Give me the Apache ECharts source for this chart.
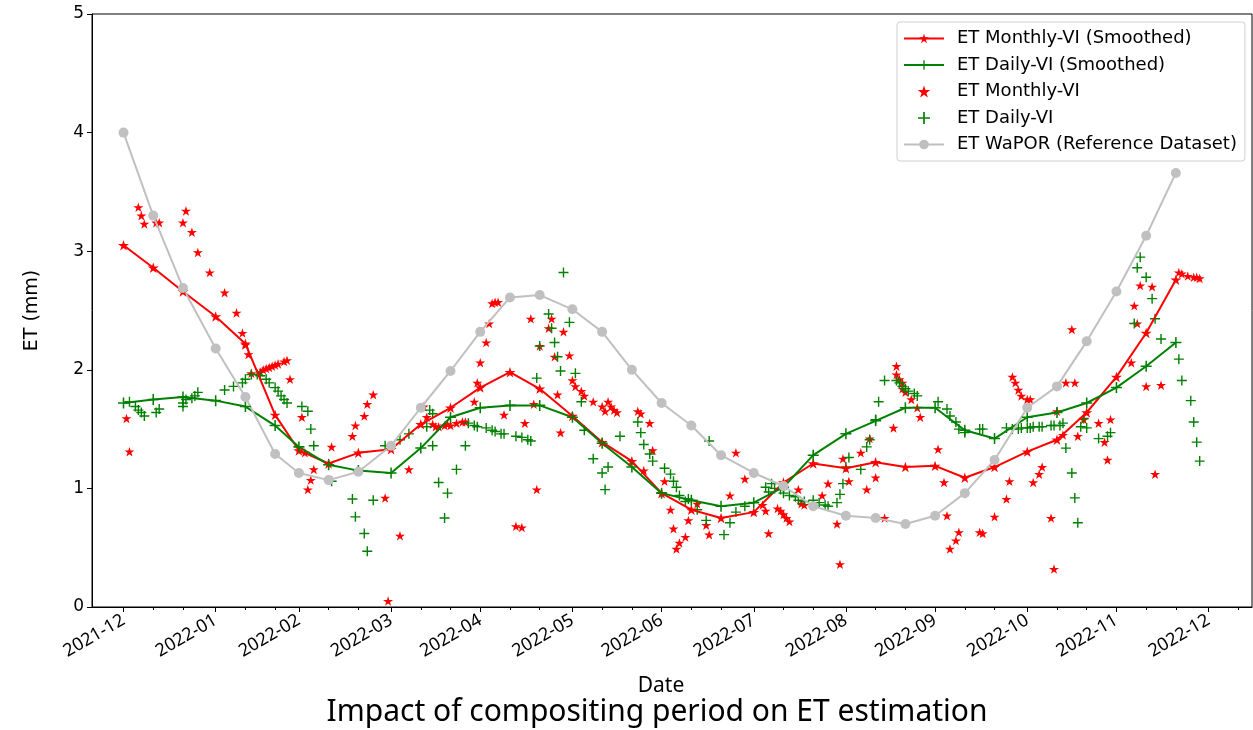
<!DOCTYPE html>
<html>
<head>
<meta charset="utf-8">
<title>Impact of compositing period on ET estimation</title>
<script src="https://cdn.jsdelivr.net/npm/echarts@6.0.0/dist/echarts.min.js"></script>
<style>
  html, body { margin: 0; padding: 0; background: #fff; }
  #etChart { width: 1253px; height: 730px; }
</style>
</head>
<body>
<div id="etChart"></div>
<script>
// dekad (10-day) dates used by the smoothed series and the WaPOR reference
var dekadDates = ['2021-12-31', '2022-01-10', '2022-01-20', '2022-01-31', '2022-02-10', '2022-02-20',
  '2022-02-28', '2022-03-10', '2022-03-20', '2022-03-31', '2022-04-10', '2022-04-20',
  '2022-04-30', '2022-05-10', '2022-05-20', '2022-05-31', '2022-06-10', '2022-06-20',
  '2022-06-30', '2022-07-10', '2022-07-20', '2022-07-31', '2022-08-10', '2022-08-20',
  '2022-08-31', '2022-09-10', '2022-09-20', '2022-09-30', '2022-10-10', '2022-10-20',
  '2022-10-31', '2022-11-10', '2022-11-20', '2022-11-30', '2022-12-10', '2022-12-20'];

var monthlySmoothed = [3.05, 2.86, 2.66, 2.45, 2.22, 1.62, 1.32, 1.21, 1.30, 1.33, 1.54, 1.68,
  1.85, 1.98, 1.84, 1.61, 1.39, 1.23, 0.96, 0.82, 0.75, 0.80, 1.05, 1.21,
  1.17, 1.22, 1.18, 1.19, 1.09, 1.18, 1.31, 1.41, 1.64, 1.94, 2.31, 2.76];

var dailySmoothed = [1.72, 1.75, 1.77, 1.74, 1.69, 1.53, 1.35, 1.20, 1.15, 1.13, 1.34, 1.60,
  1.68, 1.70, 1.70, 1.60, 1.38, 1.18, 0.96, 0.90, 0.85, 0.88, 1.01, 1.28,
  1.46, 1.57, 1.68, 1.68, 1.49, 1.42, 1.60, 1.64, 1.72, 1.85, 2.03, 2.23];

var wapor = [4.00, 3.30, 2.69, 2.18, 1.77, 1.29, 1.13, 1.07, 1.14, 1.36, 1.68, 1.99,
  2.32, 2.61, 2.63, 2.51, 2.32, 2.00, 1.72, 1.53, 1.28, 1.13, 1.02, 0.85,
  0.77, 0.75, 0.70, 0.77, 0.96, 1.24, 1.68, 1.86, 2.24, 2.66, 3.13, 3.66];

// raw estimates: day number counted from 2021-12-31, and ET (mm)
var monthlyViDay = [1, 2, 5, 6, 7, 11, 12, 20, 21, 23,
  25, 29, 34, 38, 40, 41, 42, 43, 46, 47,
  48, 49, 50, 51, 52, 54, 55, 56, 60, 61,
  62, 63, 64, 70, 77, 78, 81, 82, 84, 88,
  89, 93, 96, 101, 102, 104, 105, 106, 108, 109,
  110, 112, 114, 115, 118, 119, 120, 122, 123, 124,
  125, 126, 128, 132, 134, 135, 137, 138, 139, 140,
  143, 144, 145, 146, 147, 148, 150, 151, 152, 154,
  155, 158, 161, 162, 163, 164, 165, 166, 173, 174,
  175, 177, 178, 182, 184, 185, 186, 187, 189, 190,
  193, 196, 197, 204, 206, 209, 215, 216, 217, 220,
  221, 222, 223, 224, 227, 228, 229, 235, 237, 240,
  241, 242, 244, 248, 250, 251, 253, 256, 259, 260,
  260, 261, 262, 262, 263, 265, 267, 268, 274, 276,
  277, 278, 280, 281, 288, 289, 293, 297, 298, 299,
  300, 301, 302, 304, 305, 306, 308, 309, 312, 313,
  314, 316, 317, 319, 320, 321, 323, 328, 330, 331,
  332, 339, 340, 341, 342, 344, 346, 347, 349, 355,
  356, 358, 360, 361, 362];
var monthlyViEt = [1.59, 1.31, 3.37, 3.30, 3.23, 3.24, 3.24, 3.24, 3.34, 3.16,
  2.99, 2.82, 2.65, 2.48, 2.31, 2.21, 2.13, 1.97, 1.98, 2.00,
  2.01, 2.02, 2.03, 2.04, 2.05, 2.07, 2.08, 1.92, 1.60, 1.30,
  0.99, 1.07, 1.16, 1.35, 1.44, 1.53, 1.61, 1.71, 1.79, 0.92,
  0.05, 0.60, 1.16, 1.69, 1.60, 1.54, 1.52, 1.52, 1.53, 1.54,
  1.53, 1.55, 1.56, 1.56, 1.73, 1.89, 2.06, 2.23, 2.39, 2.56,
  2.57, 2.57, 1.62, 0.68, 0.67, 1.55, 2.43, 1.71, 0.99, 2.20,
  2.35, 2.43, 2.11, 1.79, 1.47, 2.32, 2.12, 1.91, 1.86, 1.82,
  1.78, 1.73, 1.69, 1.65, 1.73, 1.69, 1.66, 1.64, 1.65, 1.63,
  1.15, 1.55, 1.32, 1.06, 0.82, 0.66, 0.49, 0.54, 0.59, 0.73,
  0.87, 0.69, 0.61, 0.94, 1.30, 1.08, 0.86, 0.81, 0.62, 0.83,
  0.81, 0.78, 0.75, 0.72, 0.99, 0.87, 0.86, 0.94, 1.04, 0.70,
  0.36, 1.25, 1.06, 1.30, 0.99, 1.42, 1.09, 0.75, 1.51, 2.03,
  1.96, 1.92, 1.89, 1.84, 1.81, 1.75, 1.68, 1.60, 1.33, 1.05,
  0.77, 0.49, 0.56, 0.63, 0.63, 0.62, 0.76, 0.91, 1.06, 1.94,
  1.89, 1.83, 1.78, 1.75, 1.75, 1.05, 1.12, 1.18, 0.75, 0.32,
  1.65, 1.45, 1.89, 2.34, 1.89, 1.44, 1.58, 1.55, 1.39, 1.24,
  1.58, 2.06, 2.54, 2.39, 2.71, 1.86, 2.70, 1.12, 1.87, 2.82,
  2.81, 2.79, 2.78, 2.78, 2.77];

var dailyViDay = [2, 4, 5, 6, 7, 11, 12, 20, 20, 21,
  23, 24, 25, 34, 37, 40, 41, 43, 45, 46,
  48, 49, 51, 52, 53, 54, 55, 60, 62, 63,
  64, 70, 77, 78, 81, 82, 84, 88, 93, 96,
  102, 103, 104, 104, 106, 108, 109, 112, 115, 116,
  118, 119, 122, 124, 125, 127, 128, 132, 134, 136,
  137, 139, 140, 143, 144, 145, 146, 147, 148, 150,
  152, 154, 155, 158, 161, 162, 163, 167, 173, 174,
  175, 177, 178, 182, 184, 185, 186, 187, 189, 190,
  193, 196, 197, 202, 204, 206, 209, 216, 217, 218,
  219, 221, 222, 224, 226, 227, 229, 232, 234, 236,
  237, 240, 241, 242, 243, 244, 248, 250, 251, 253,
  254, 256, 260, 261, 262, 263, 264, 266, 267, 274,
  277, 278, 280, 281, 283, 288, 289, 297, 299, 301,
  302, 304, 305, 306, 308, 309, 312, 313, 315, 316,
  317, 319, 320, 321, 322, 323, 324, 328, 331, 332,
  340, 341, 342, 344, 346, 347, 349, 355, 356, 359,
  360, 361, 362];
var dailyViEt = [1.73, 1.69, 1.66, 1.64, 1.61, 1.64, 1.67, 1.72, 1.69, 1.75,
  1.76, 1.78, 1.81, 1.83, 1.86, 1.89, 1.92, 1.96, 1.96, 1.95,
  1.92, 1.89, 1.85, 1.82, 1.78, 1.75, 1.72, 1.69, 1.65, 1.50,
  1.36, 1.06, 0.91, 0.76, 0.62, 0.47, 0.90, 1.36, 1.41, 1.46,
  1.52, 1.66, 1.63, 1.36, 1.05, 0.75, 0.96, 1.16, 1.36, 1.55,
  1.53, 1.52, 1.51, 1.49, 1.48, 1.46, 1.46, 1.44, 1.43, 1.41,
  1.40, 1.93, 2.20, 2.47, 2.35, 2.23, 2.11, 1.99, 2.82, 2.40,
  1.97, 1.73, 1.49, 1.25, 1.13, 0.99, 1.18, 1.44, 1.56, 1.47,
  1.37, 1.29, 1.23, 1.17, 1.12, 1.06, 1.01, 0.94, 0.89, 0.91,
  0.82, 0.73, 1.40, 0.61, 0.71, 0.80, 0.85, 1.01, 0.97, 1.04,
  1.00, 0.99, 0.96, 0.94, 0.93, 0.90, 0.89, 0.90, 0.88, 0.86,
  0.85, 0.88, 0.95, 1.04, 1.18, 1.26, 1.16, 1.35, 1.41, 1.58,
  1.73, 1.91, 1.91, 1.89, 1.86, 1.84, 1.82, 1.80, 1.78, 1.73,
  1.67, 1.61, 1.56, 1.50, 1.47, 1.50, 1.50, 1.51, 1.50, 1.50,
  1.51, 1.51, 1.51, 1.52, 1.52, 1.52, 1.53, 1.53, 1.53, 1.55,
  1.34, 1.13, 0.92, 0.71, 1.52, 1.59, 1.51, 1.42, 1.44, 1.47,
  2.39, 2.86, 2.95, 2.78, 2.60, 2.43, 2.26, 2.09, 1.91, 1.74,
  1.56, 1.39, 1.23];

// x ticks sit on month ends, labelled by month; minor ticks on the 10th and 20th
var monthTicks = ['2021-12-31', '2022-01-31', '2022-02-28', '2022-03-31', '2022-04-30', '2022-05-31',
  '2022-06-30', '2022-07-31', '2022-08-31', '2022-09-30', '2022-10-31', '2022-11-30', '2022-12-31'];
var minorTicks = ['2022-01-10', '2022-01-20', '2022-02-10', '2022-02-20', '2022-03-10', '2022-03-20',
  '2022-04-10', '2022-04-20', '2022-05-10', '2022-05-20', '2022-06-10', '2022-06-20',
  '2022-07-10', '2022-07-20', '2022-08-10', '2022-08-20', '2022-09-10', '2022-09-20',
  '2022-10-10', '2022-10-20', '2022-11-10', '2022-11-20', '2022-12-10', '2022-12-20', '2023-01-10'];
var yTicks = [0, 1, 2, 3, 4, 5];

var seriesNames = ['ET Monthly-VI (Smoothed)', 'ET Daily-VI (Smoothed)', 'ET Monthly-VI', 'ET Daily-VI',
  'ET WaPOR (Reference Dataset)'];

var STAR = 'path://M100,0L122.5,69.1L195.1,69.1L136.3,111.8L158.8,180.9L100,138.2L41.2,180.9L63.7,111.8L4.9,69.1L77.5,69.1Z';
var PLUS = 'path://M0,4.3H10V5.7H0Z M4.3,0H5.7V10H4.3Z';

function toTime(s) {
  var p = s.split('-');
  return new Date(+p[0], +p[1] - 1, +p[2]).getTime();
}
var dayZero = toTime('2021-12-31');
function dayToTime(d) { return dayZero + d * 86400000; }
function pairDates(dates, vals) {
  return dates.map(function (d, i) { return [toTime(d), vals[i]]; });
}
function pairDays(days, vals) {
  return days.map(function (d, i) { return [dayToTime(d), vals[i]]; });
}

var xMin = new Date(2021, 11, 20, 9, 36).getTime();
var xMax = new Date(2023, 0, 14, 14, 24).getTime();

var chart = echarts.init(document.getElementById('etChart'), null, { renderer: 'canvas' });
var axisColor = '#000';
var option = {
  animation: false,
  backgroundColor: '#fff',
  title: {
    text: 'Impact of compositing period on ET estimation',
    left: 652, top: 692, textAlign: 'center',
    textStyle: { fontFamily: 'Noto Sans', fontSize: 30, fontWeight: 'normal', color: '#000' }
  },
  grid: { left: 92, right: 1, top: 14, bottom: 123, show: true, borderColor: axisColor, borderWidth: 1, backgroundColor: 'transparent' },
  legend: {
    orient: 'vertical', left: 897, top: 22,
    padding: [7, 8, 7, 6], itemGap: 7.5, itemWidth: 40, itemHeight: 12,
    backgroundColor: '#fff', borderColor: '#d0d0d0', borderWidth: 1, borderRadius: 3,
    data: seriesNames,
    textStyle: { fontFamily: 'DejaVu Sans', fontSize: 18, color: '#000', lineHeight: 19, padding: [0, 0, 0, 8] }
  },
  xAxis: [{
    type: 'value', min: xMin, max: xMax,
    name: 'Date', nameLocation: 'middle', nameGap: 69,
    nameTextStyle: { fontFamily: 'Noto Sans', fontSize: 21, color: '#000', padding: [0, 22, 0, 0] },
    axisLine: { show: true, lineStyle: { color: axisColor, width: 1 } },
    axisTick: { show: true, length: 5, customValues: monthTicks.map(toTime), lineStyle: { color: axisColor } },
    axisLabel: {
      customValues: monthTicks.map(toTime), rotate: 30, margin: 12,
      fontFamily: 'Noto Sans', fontSize: 18, color: '#000',
      formatter: function (v) {
        var d = new Date(v);
        var m = d.getMonth() + 1;
        return d.getFullYear() + '-' + (m < 10 ? '0' + m : m);
      }
    },
    splitLine: { show: false }
  }, {
    type: 'value', min: xMin, max: xMax, position: 'bottom',
    axisLine: { show: false },
    axisTick: { show: true, length: 3, customValues: minorTicks.map(toTime), lineStyle: { color: axisColor } },
    axisLabel: { show: false },
    splitLine: { show: false }
  }],
  yAxis: {
    type: 'value', min: 0, max: 5, interval: 1,
    name: 'ET (mm)', nameLocation: 'middle', nameGap: 50,
    nameTextStyle: { fontFamily: 'DejaVu Sans', fontSize: 19, color: '#000' },
    axisLine: { show: true, lineStyle: { color: axisColor, width: 1 } },
    axisTick: { show: true, length: 5, customValues: yTicks, lineStyle: { color: axisColor } },
    axisLabel: { customValues: yTicks, fontFamily: 'DejaVu Sans', fontSize: 17, color: '#000', margin: 8 },
    splitLine: { show: false }
  },
  series: [{
    name: seriesNames[0], type: 'line', data: pairDates(dekadDates, monthlySmoothed),
    symbol: STAR, symbolSize: 11, symbolKeepAspect: true, showAllSymbol: true,
    itemStyle: { color: '#ff0000' }, lineStyle: { color: '#ff0000', width: 2 }
  }, {
    name: seriesNames[1], type: 'line', data: pairDates(dekadDates, dailySmoothed),
    symbol: PLUS, symbolSize: 11, showAllSymbol: true,
    itemStyle: { color: '#008000' }, lineStyle: { color: '#008000', width: 2 }
  }, {
    name: seriesNames[2], type: 'scatter', data: pairDays(monthlyViDay, monthlyViEt),
    symbol: STAR, symbolSize: 10, symbolKeepAspect: true,
    itemStyle: { color: '#ff0000', opacity: 1 }
  }, {
    name: seriesNames[3], type: 'scatter', data: pairDays(dailyViDay, dailyViEt),
    symbol: PLUS, symbolSize: 10,
    itemStyle: { color: '#008000', opacity: 1 }
  }, {
    name: seriesNames[4], type: 'line', data: pairDates(dekadDates, wapor),
    symbol: 'circle', symbolSize: 10, showAllSymbol: true,
    itemStyle: { color: '#c0c0c0' }, lineStyle: { color: '#c0c0c0', width: 2 }
  }]
};
chart.setOption(option);
</script>
</body>
</html>
